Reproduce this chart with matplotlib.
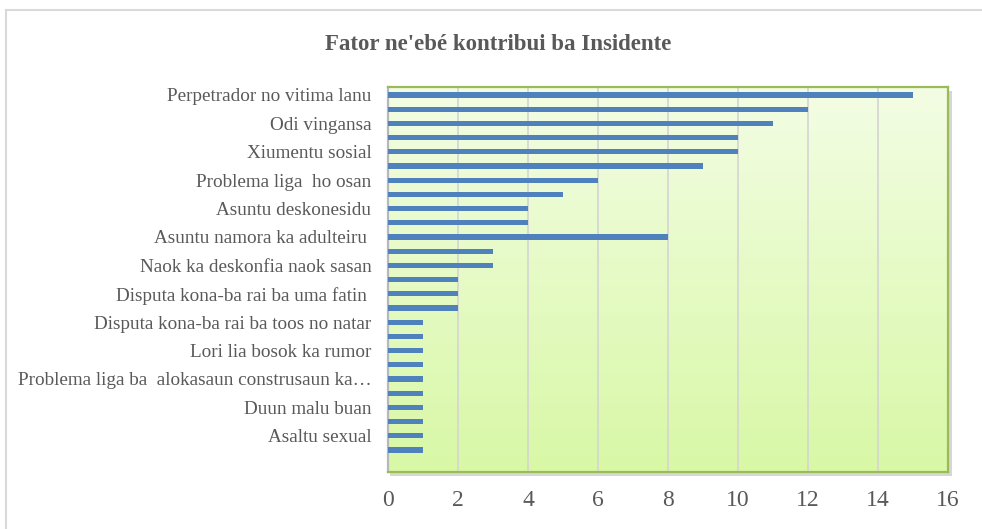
import matplotlib.pyplot as plt
import numpy as np
from matplotlib.lines import Line2D
from matplotlib.patches import Rectangle
from matplotlib.colors import LinearSegmentedColormap

plt.rcParams['font.family'] = ['Liberation Serif', 'DejaVu Serif']

# fatores (so label ida-ida hatudu, hanesan iha Excel)
fatores = ['Perpetrador no vitima lanu', '', 'Odi vingansa', '', 'Xiumentu sosial', '',
           'Problema liga  ho osan', '', 'Asuntu deskonesidu', '',
           'Asuntu namora ka adulteiru ', '', 'Naok ka deskonfia naok sasan', '',
           'Disputa kona-ba rai ba uma fatin ', '', 'Disputa kona-ba rai ba toos no natar', '',
           'Lori lia bosok ka rumor', '', 'Problema liga ba  alokasaun construsaun ka\u2026', '',
           'Duun malu buan', '', 'Asaltu sexual', '']
valor = [15, 12, 11, 10, 10, 9, 6, 5, 4, 4, 8, 3, 3, 2, 2, 2, 1, 1, 1, 1, 1, 1, 1, 1, 1, 1]
xticks = [0, 2, 4, 6, 8, 10, 12, 14, 16]
titulu = "Fator ne'ebé kontribui ba Insidente"

cinzentu = '#595959'

fig = plt.figure(figsize=(9.82, 5.29), dpi=100)
ax = fig.add_axes([388/982, 1 - 472/529, (948 - 388)/982, (472 - 87)/529])
ax.set_zorder(2)

# sombra kotuk
pos = ax.get_position()
sombra = Rectangle((pos.x0 + 2/982, pos.y0 - 4/529), pos.width + 2/982, pos.height,
                   transform=fig.transFigure, facecolor='#d6d6d6', edgecolor='none', zorder=1)
fig.add_artist(sombra)

# gradiente verde
grad = np.linspace(0, 1, 256).reshape(-1, 1)
cm = LinearSegmentedColormap.from_list('g', ['#d8f8a6', '#f3fde4'])
ax.imshow(grad, cmap=cm, aspect='auto', extent=[0, 1, 0, 1], transform=ax.transAxes,
          origin='lower', zorder=0)

y = np.arange(len(valor))
ax.barh(y, valor, height=0.36, color='#4f81bd', zorder=3)

ax.set_xlim(0, 16)
ax.set_ylim(26.55, -0.56)
ax.set_xticks(xticks)
ax.set_xticklabels([str(v) for v in xticks], fontsize=17, color=cinzentu)
ax.set_yticks(y)
ax.set_yticklabels(fatores, fontsize=13.8, color=cinzentu)
ax.tick_params(axis='both', length=0)
ax.tick_params(axis='y', pad=12)
ax.tick_params(axis='x', pad=13)
ax.grid(axis='x', color='#d4d4d4', linewidth=1.2, zorder=1)
ax.set_axisbelow(True)
for s in ax.spines.values():
    s.set_color('#9bbb59')
    s.set_linewidth(1.6)
ax.spines['left'].set_color('#b8b8b8')

fig.text(0.507, 1 - 44.5/529, titulu, ha='center', va='center', fontsize=16.5,
         fontweight='bold', color=cinzentu)

# borda figura
fig.add_artist(Line2D([5.5/982, 1], [1 - 9.5/529, 1 - 9.5/529], color='#d9d9d9', linewidth=1.5,
                      transform=fig.transFigure))
fig.add_artist(Line2D([5.5/982, 5.5/982], [0, 1 - 9.5/529], color='#d9d9d9', linewidth=1.5,
                      transform=fig.transFigure))

fig.savefig('out.png', dpi=100)
